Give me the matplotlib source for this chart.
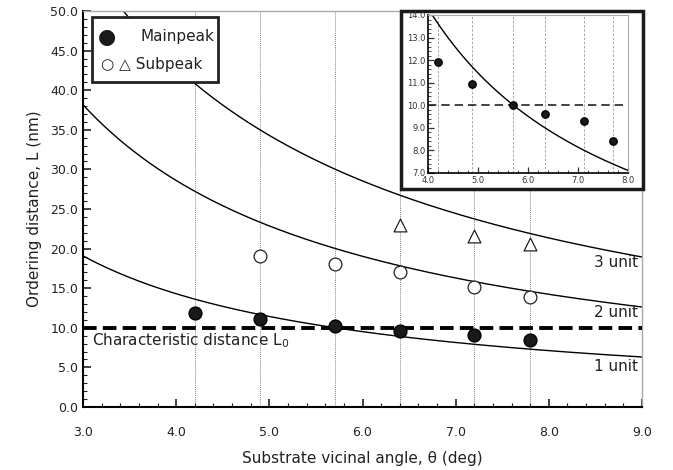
import numpy as np
import matplotlib.pyplot as plt
from matplotlib.ticker import MultipleLocator, FormatStrFormatter
from matplotlib.patches import Rectangle

plt.rcParams['font.family'] = ['DejaVu Sans']

# sample angles (deg) and measured ordering distances (nm)
angles = [4.2, 4.9, 5.7, 6.4, 7.2, 7.8]
main_peak = [11.9, 11.1, 10.2, 9.6, 9.1, 8.5]
sub_angles_circle = [4.9, 5.7, 6.4, 7.2, 7.8]
sub_peak_circle = [19.1, 18.1, 17.0, 15.1, 13.9]
sub_angles_tri = [6.4, 7.2, 7.8]
sub_peak_tri = [23.0, 21.6, 20.6]
inset_angles = [4.2, 4.88, 5.7, 6.34, 7.12, 7.7]
inset_peak = [11.9, 10.95, 10.0, 9.6, 9.3, 8.4]
L0 = 10.0
step_h = 1.0  # nm, L = n*h/tan(theta)
units = [1, 2, 3]
unit_labels = ['1 unit', '2 unit', '3 unit']
unit_label_y = [5.1, 11.9, 18.3]

fig = plt.figure(figsize=(6.73, 4.70), dpi=100)
ax = fig.add_axes([83/673, 1 - 407/470, 559/673, 396/470])

th = np.linspace(3.0, 9.0, 400)
for n in units:
    ax.plot(th, n * step_h / np.tan(np.radians(th)), color='black', lw=1.0, zorder=2)

for a in angles:
    ax.axvline(a, color='#888888', lw=0.7, ls=(0, (1, 1)), zorder=1)

ax.axhline(L0, color='black', lw=2.8, ls=(0, (3.5, 1.6)), zorder=3)

ax.scatter(angles, main_peak, s=85, facecolor='#1a1a1a', edgecolor='black', zorder=4)
ax.scatter(sub_angles_circle, sub_peak_circle, s=85, facecolor='white', edgecolor='#222222', lw=0.9, zorder=4)
ax.scatter(sub_angles_tri, sub_peak_tri, s=85, marker='^', facecolor='white', edgecolor='#222222', lw=0.9, zorder=4)

ax.set_xlim(3.0, 9.0)
ax.set_ylim(0.0, 50.0)
ax.xaxis.set_major_locator(MultipleLocator(1.0))
ax.xaxis.set_minor_locator(MultipleLocator(0.2))
ax.yaxis.set_major_locator(MultipleLocator(5.0))
ax.yaxis.set_minor_locator(MultipleLocator(1.0))
ax.xaxis.set_major_formatter(FormatStrFormatter('%.1f'))
ax.yaxis.set_major_formatter(FormatStrFormatter('%.1f'))
ax.tick_params(which='both', direction='in', labelsize=9, colors='#222222')
ax.tick_params(which='major', length=6, width=1.2)
ax.tick_params(which='minor', length=3, width=0.8)
ax.tick_params(axis='x', pad=14)
ax.tick_params(top=False, right=False)
for s in ['left', 'bottom']:
    ax.spines[s].set_linewidth(1.5)
for s in ['top', 'right']:
    ax.spines[s].set_color('#aaaaaa')
    ax.spines[s].set_linewidth(1.0)

ax.set_xlabel('Substrate vicinal angle, θ (deg)', fontsize=11, color='#222222', labelpad=8)
ax.set_ylabel('Ordering distance, L (nm)', fontsize=11, color='#222222', labelpad=6)

ax.text(3.1, 8.4, 'Characteristic distance L$_{\\mathrm{0}}$', fontsize=11, color='#222222',
        va='center', ha='left', zorder=5)
for lab, yv in zip(unit_labels, unit_label_y):
    ax.text(8.96, yv, lab, fontsize=11, ha='right', va='center', color='#222222')

# legend drawn as a box
leg = Rectangle((92/673, 1 - 82/470), 126/673, 65/470, transform=fig.transFigure,
                facecolor='white', edgecolor='#222222', lw=2.0, zorder=10)
fig.patches.append(leg)
fig.text(107/673, 1 - 37/470, '●', fontsize=15, ha='center', va='center', color='#1a1a1a', zorder=11)
fig.text(141/673, 1 - 37/470, 'Mainpeak', fontsize=11, ha='left', va='center', color='#222222', zorder=11)
fig.text(101/673, 1 - 64/470, '○ △ Subpeak', fontsize=11, ha='left', va='center', color='#222222', zorder=11)

# inset
frame = Rectangle((401/673, 1 - 189/470), 242/673, 178/470, transform=fig.transFigure,
                  facecolor='white', edgecolor='#1a1a1a', lw=2.5, zorder=6)
fig.patches.append(frame)
axi = fig.add_axes([428/673, 1 - 173/470, 200/673, 158/470], zorder=7)
thi = np.linspace(4.0, 8.0, 300)
axi.plot(thi, step_h / np.tan(np.radians(thi)), color='black', lw=1.0, zorder=2)
for a in inset_angles:
    axi.axvline(a, color='#999999', lw=0.6, ls=(0, (3, 2)), zorder=1)
axi.axhline(L0, color='#222222', lw=1.2, ls=(0, (5, 3)), zorder=3)
axi.scatter(inset_angles, inset_peak, s=28, facecolor='#1a1a1a', edgecolor='black', zorder=4)
axi.set_xlim(4.0, 8.0)
axi.set_ylim(7.0, 14.0)
axi.xaxis.set_major_locator(MultipleLocator(1.0))
axi.xaxis.set_minor_locator(MultipleLocator(0.2))
axi.yaxis.set_major_locator(MultipleLocator(1.0))
axi.yaxis.set_minor_locator(MultipleLocator(0.2))
axi.xaxis.set_major_formatter(FormatStrFormatter('%.1f'))
axi.yaxis.set_major_formatter(FormatStrFormatter('%.1f'))
axi.tick_params(which='both', direction='in', labelsize=6, colors='#333333', pad=2)
axi.tick_params(which='major', length=4, width=0.9)
axi.tick_params(which='minor', length=2, width=0.6)
axi.tick_params(top=False, right=False)
for s in ['left', 'bottom']:
    axi.spines[s].set_linewidth(1.2)
for s in ['top', 'right']:
    axi.spines[s].set_color('#aaaaaa')

fig.savefig('out.png', dpi=100)
